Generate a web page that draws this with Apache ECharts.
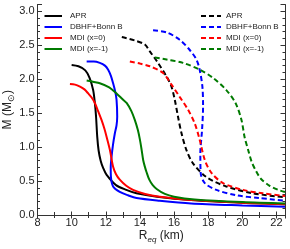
<!DOCTYPE html>
<html><head><meta charset="utf-8">
<script src="https://cdn.jsdelivr.net/npm/echarts@6/dist/echarts.min.js"></script>
<style>html,body{margin:0;padding:0;background:#fff}#c{width:290px;height:249px}</style>
</head><body><div id="c"></div>
<script>
// Legend labels
const seriesNames = ['APR', 'DBHF+Bonn B', 'MDI (x=0)', 'MDI (x=-1)'];
// Solid curves (R_eq in km, M in solar masses)
const aprSolidR = [10.0, 10.4, 10.8, 11.05, 11.26, 11.36, 11.43, 11.5, 11.58, 11.7, 11.85, 12.05, 12.6, 13.2, 13.8, 15.0, 17.0, 20.0, 22.5];
const aprSolidM = [2.21, 2.19, 2.13, 2.02, 1.84, 1.65, 1.45, 1.15, 0.95, 0.8, 0.69, 0.59, 0.44, 0.37, 0.32, 0.27, 0.22, 0.18, 0.16];
const dbhfSolidR = [10.88, 11.3, 11.65, 11.95, 12.14, 12.3, 12.43, 12.55, 12.63, 12.67, 12.63, 12.53, 12.42, 12.34, 12.29, 12.3, 12.43, 12.82, 13.3, 13.8, 15.16, 17.0, 20.0, 22.5];
const dbhfSolidM = [2.26, 2.26, 2.24, 2.2, 2.14, 2.05, 1.94, 1.82, 1.70, 1.45, 1.32, 1.2, 1.03, 0.86, 0.7, 0.57, 0.42, 0.34, 0.29, 0.25, 0.21, 0.17, 0.14, 0.12];
const mdi0SolidR = [9.9, 10.2, 10.49, 10.75, 10.97, 11.17, 11.36, 11.55, 11.75, 11.92, 12.05, 12.24, 12.43, 12.6, 12.82, 13.2, 13.6, 14.3, 15.16, 17.0, 20.0, 22.5];
const mdi0SolidM = [1.93, 1.92, 1.89, 1.85, 1.79, 1.73, 1.65, 1.53, 1.40, 1.27, 1.15, 0.96, 0.71, 0.6, 0.52, 0.43, 0.37, 0.31, 0.27, 0.22, 0.18, 0.16];
const mdi1SolidR = [10.88, 11.3, 11.65, 12.2, 12.63, 13.0, 13.22, 13.5, 13.7, 13.88, 14.0, 14.1, 14.19, 14.28, 14.39, 14.55, 14.75, 15.0, 15.46, 16.0, 17.2, 20.0, 22.5];
const mdi1SolidM = [1.98, 1.96, 1.94, 1.88, 1.79, 1.70, 1.65, 1.53, 1.40, 1.25, 1.11, 0.96, 0.81, 0.72, 0.63, 0.52, 0.44, 0.38, 0.31, 0.27, 0.23, 0.19, 0.17];
// Dashed curves
const aprDashR = [12.94, 13.7, 14.29, 14.58, 15.06, 15.56, 15.85, 16.04, 16.23, 16.43, 16.72, 17.11, 17.89, 19.06, 20.62, 22.5];
const aprDashM = [2.62, 2.57, 2.51, 2.41, 2.24, 2.04, 1.89, 1.70, 1.45, 1.21, 0.96, 0.76, 0.56, 0.42, 0.32, 0.26];
const dbhfDashR = [14.77, 15.56, 16.33, 16.92, 17.31, 17.5, 17.66, 17.7, 17.64, 17.54, 17.56, 17.8, 18.48, 19.65, 21.0, 22.5];
const dbhfDashM = [2.72, 2.69, 2.58, 2.43, 2.29, 2.14, 1.89, 1.60, 1.25, 0.91, 0.62, 0.47, 0.37, 0.29, 0.25, 0.21];
const mdi0DashR = [13.41, 14.0, 14.58, 15.36, 15.85, 16.33, 16.82, 17.21, 17.5, 17.8, 18.19, 18.87, 20.04, 21.2, 22.5];
const mdi0DashM = [2.26, 2.23, 2.19, 2.09, 1.92, 1.74, 1.55, 1.35, 1.11, 0.81, 0.62, 0.47, 0.37, 0.32, 0.28];
const mdi1DashR = [14.87, 15.56, 16.53, 17.5, 18.28, 19.06, 19.6, 19.95, 20.13, 20.35, 20.55, 20.8, 21.1, 21.6, 22.1, 22.5];
const mdi1DashM = [2.32, 2.29, 2.24, 2.14, 2.02, 1.84, 1.65, 1.40, 1.15, 0.95, 0.78, 0.65, 0.53, 0.43, 0.37, 0.34];

const colors = ['#000000', '#0000ff', '#ff0000', '#007a00'];
const solid = [[aprSolidR, aprSolidM], [dbhfSolidR, dbhfSolidM], [mdi0SolidR, mdi0SolidM], [mdi1SolidR, mdi1SolidM]];
const dashed = [[aprDashR, aprDashM], [dbhfDashR, dbhfDashM], [mdi0DashR, mdi0DashM], [mdi1DashR, mdi1DashM]];
const zip = (r, m) => r.map((v, i) => [v, m[i]]);
const FONT = '"Liberation Sans", Arial, sans-serif';

const series = [];
solid.forEach((d, i) => series.push({
  name: seriesNames[i], type: 'line', data: zip(d[0], d[1]), symbol: 'none', smooth: 0.3,
  lineStyle: { color: colors[i], width: 2 }, itemStyle: { color: colors[i] }, clip: true, z: 3
}));
dashed.forEach((d, i) => series.push({
  name: seriesNames[i] + '_d', type: 'line', data: zip(d[0], d[1]), symbol: 'none', smooth: 0.3,
  lineStyle: { color: colors[i], width: 2, type: [5, 3] }, itemStyle: { color: colors[i] }, clip: true, z: 3
}));

const axisLineStyle = { color: '#333', width: 1 };
const legendCommon = {
  orient: 'vertical', top: 11, padding: 0, itemHeight: 10, itemGap: 1, selectedMode: false,
  itemStyle: { opacity: 0 }
};
const chart = echarts.init(document.getElementById('c'), null, { renderer: 'canvas' });
chart.setOption({
  animation: false,
  backgroundColor: '#fff',
  textStyle: { fontFamily: FONT },
  grid: { left: 37.5, right: 5, top: 4.5, bottom: 34, containLabel: false, outerBoundsMode: 'none' },
  legend: [
    Object.assign({}, legendCommon, { data: seriesNames, left: 43.5, itemWidth: 17.5,
      textStyle: { fontSize: 8, color: '#222', fontFamily: FONT, lineHeight: 10, padding: [0, 0, 0, 3] } }),
    Object.assign({}, legendCommon, { data: seriesNames.map(n => n + '_d'), left: 200, itemWidth: 20,
      textStyle: { fontSize: 8, color: '#222', fontFamily: FONT, lineHeight: 10 },
      formatter: n => n.replace(/_d$/, '') })
  ],
  xAxis: [
    { type: 'value', min: 8, max: 22.5, interval: 2, position: 'bottom',
      axisLine: { show: true, lineStyle: axisLineStyle },
      axisTick: { show: true, inside: true, length: 3.5, lineStyle: axisLineStyle },
      minorTick: { show: true, splitNumber: 2, length: 3, lineStyle: axisLineStyle },
      splitLine: { show: false },
      axisLabel: { margin: 2, fontSize: 11, color: '#222', showMaxLabel: false, fontFamily: FONT },
      name: '{r|R}{s|eq}{r| (km)}', nameLocation: 'middle', nameGap: 15, nameMoveOverlap: false,
      nameTextStyle: { rich: {
        r: { fontSize: 12, color: '#222', fontFamily: FONT, verticalAlign: 'top', lineHeight: 14 },
        s: { fontSize: 8, color: '#222', fontFamily: FONT, fontStyle: 'italic', verticalAlign: 'bottom', lineHeight: 8 }
      } } },
    { type: 'value', min: 8, max: 22.5, interval: 2, position: 'top',
      axisLine: { show: true, lineStyle: axisLineStyle },
      axisTick: { show: true, inside: true, length: 3.5, lineStyle: axisLineStyle },
      minorTick: { show: true, splitNumber: 2, length: 3, lineStyle: axisLineStyle },
      splitLine: { show: false }, axisLabel: { show: false } }
  ],
  yAxis: [
    { type: 'value', min: 0, max: 3.1, interval: 0.5, position: 'left',
      axisLine: { show: true, lineStyle: axisLineStyle },
      axisTick: { show: true, inside: true, length: 4.5, lineStyle: axisLineStyle },
      minorTick: { show: true, splitNumber: 5, length: 2.5, lineStyle: axisLineStyle },
      splitLine: { show: false },
      axisLabel: { margin: 3, fontSize: 11, color: '#222', showMaxLabel: false, fontFamily: FONT,
        formatter: v => v.toFixed(1) },
      name: '{r|M (M}{s|⊙}{r|)}', nameLocation: 'middle', nameGap: 21.5, nameMoveOverlap: false,
      nameTextStyle: { rich: {
        r: { fontSize: 12, color: '#222', fontFamily: FONT, verticalAlign: 'top', lineHeight: 14 },
        s: { fontSize: 9, color: '#222', fontFamily: FONT, verticalAlign: 'bottom', lineHeight: 9 }
      } } },
    { type: 'value', min: 0, max: 3.1, interval: 0.5, position: 'right',
      axisLine: { show: true, lineStyle: axisLineStyle },
      axisTick: { show: true, inside: true, length: 4.5, lineStyle: axisLineStyle },
      minorTick: { show: true, splitNumber: 5, length: 2.5, lineStyle: axisLineStyle },
      splitLine: { show: false }, axisLabel: { show: false } }
  ],
  series: series
});
</script></body></html>
